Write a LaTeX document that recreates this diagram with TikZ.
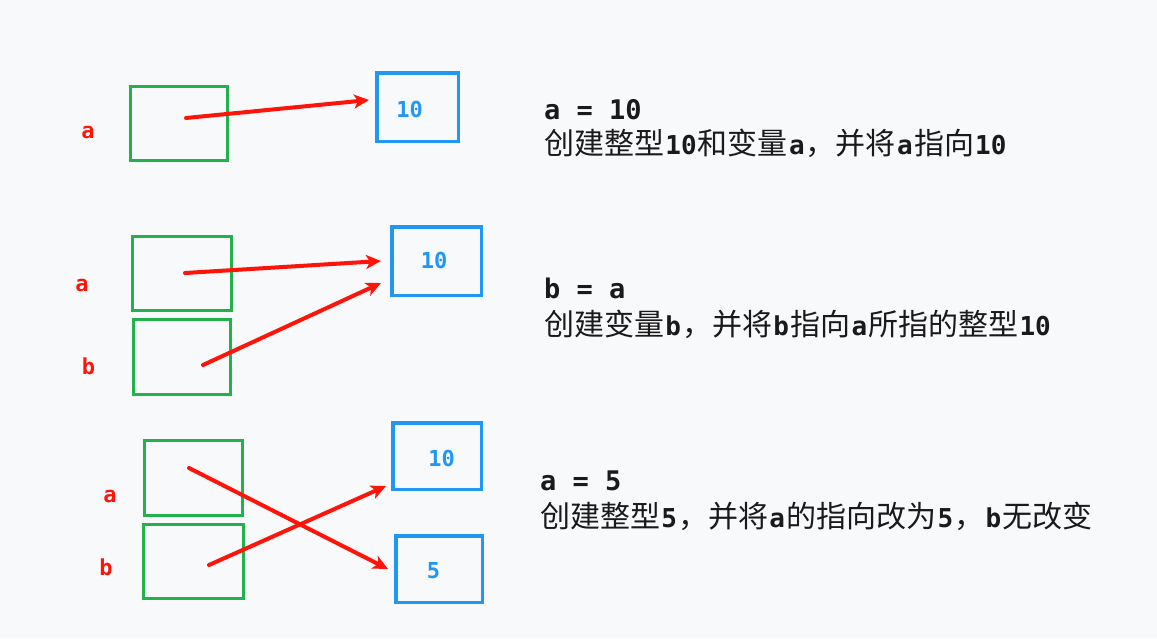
\documentclass[tikz,border=0pt]{standalone}
\usepackage{fontspec}
\usetikzlibrary{arrows.meta,calc}
\setmainfont{DejaVu Sans}
\newfontfamily\cjkfont{Noto Sans CJK SC}
\newfontfamily\codefont{DejaVu Sans Mono}
% Chinese runs and bold monospace runs inside a note line
\newcommand\zh[1]{{\cjkfont\mdseries #1}}
\newcommand\cd[1]{\kern1.2pt{\codefont\bfseries\fontsize{26}{26}\selectfont #1}\kern1.2pt}
\definecolor{bg}{RGB}{248,249,251}
\definecolor{vargreen}{RGB}{34,177,76}
\definecolor{valblue}{RGB}{33,150,243}
\definecolor{ptrred}{RGB}{255,20,10}
\definecolor{ink}{RGB}{26,26,26}
\tikzset{
  varbox/.style={draw=vargreen, line width=3pt, inner sep=0pt},
  valbox/.style={draw=valblue, line width=3.5pt, inner sep=0pt},
  valtext/.style={text=valblue, font=\codefont\bfseries\fontsize{22}{22}\selectfont, inner sep=0pt},
  varname/.style={text=ptrred, font=\codefont\bfseries\fontsize{22}{22}\selectfont, inner sep=0pt, anchor=base},
  pointer/.style={draw=ptrred, line width=4pt, line cap=round,
    -{Stealth[length=15pt,width=14pt,inset=4pt]}},
  codeline/.style={text=ink, anchor=base west, inner sep=0pt, font=\codefont\bfseries\fontsize{27}{27}\selectfont},
  noteline/.style={text=ink, anchor=base west, inner sep=0pt, font=\fontsize{30}{30}\selectfont\cjkfont},
}
\begin{document}
\begin{tikzpicture}[x=1pt, y=-1pt]
  \fill[bg] (0,0) rectangle (1157,638);
  \useasboundingbox (0,0) rectangle (1157,638);

  % ---- step 1: a = 10
  \node[varbox, minimum width=97pt, minimum height=74pt] (a1) at (179,123.5) {};
  \node[varname] (la1) at (88,138) {a};
  \node[valbox, minimum width=81.5pt, minimum height=68.5pt] (v1) at (417.5,107) {};
  \node[valtext] (t1) at ($(v1.center)+(-8,2)$) {10};
  \coordinate (s1) at (186,118);
  \draw[pointer] (s1) -- ($(v1.west)+(-6,-7)$);
  \node[codeline] (c1) at (544,119) {a = 10};
  \node[noteline] (n1) at (544,154) {\zh{创建整型}\cd{10}\zh{和变量}\cd{a}\zh{，并将}\cd{a}\zh{指向}\cd{10}};

  % ---- step 2: b = a
  \node[varbox, minimum width=99pt, minimum height=74pt] (a2) at (182,273.5) {};
  \node[varbox, minimum width=97pt, minimum height=75pt] (b2) at (182,357) {};
  \node[varname] (la2) at (82,291) {a};
  \node[varname] (lb2) at (88.5,374) {b};
  \node[valbox, minimum width=89.5pt, minimum height=68.5pt] (v2) at (436.5,261) {};
  \node[valtext] (t2) at ($(v2.center)+(-2.5,-1)$) {10};
  \coordinate (s2a) at (185,273);
  \coordinate (s2b) at (203,365);
  \draw[pointer] (s2a) -- ($(v2.west)+(-9,0)$);
  \draw[pointer] (s2b) -- ($(v2.west)+(-9,22)$);
  \node[codeline] (c2) at (544,298) {b = a};
  \node[noteline] (n2) at (544,335) {\zh{创建变量}\cd{b}\zh{，并将}\cd{b}\zh{指向}\cd{a}\zh{所指的整型}\cd{10}};

  % ---- step 3: a = 5
  \node[varbox, minimum width=98pt, minimum height=75pt] (a3) at (193.5,478) {};
  \node[varbox, minimum width=100pt, minimum height=74pt] (b3) at (193.5,561.5) {};
  \node[varname] (la3) at (110,502) {a};
  \node[varname] (lb3) at (106,575) {b};
  \node[valbox, minimum width=88.5pt, minimum height=66.5pt] (v3) at (437,456) {};
  \node[valtext] (t3) at ($(v3.center)+(4.5,2)$) {10};
  \node[valbox, minimum width=86.5pt, minimum height=66.5pt] (v4) at (439,569) {};
  \node[valtext] (t4) at ($(v4.center)+(-5.5,2)$) {5};
  \coordinate (s3a) at (189,468);
  \coordinate (s3b) at (209,565);
  \draw[pointer] (s3a) -- ($(v4.west)+(-6,0)$);
  \draw[pointer] (s3b) -- ($(v3.west)+(-5,30)$);
  \node[codeline] (c3) at (540,490) {a = 5};
  \node[noteline] (n3) at (540,527) {\zh{创建整型}\cd{5}\zh{，并将}\cd{a}\zh{的指向改为}\cd{5}\zh{，}\cd{b}\zh{无改变}};
\end{tikzpicture}
\end{document}
